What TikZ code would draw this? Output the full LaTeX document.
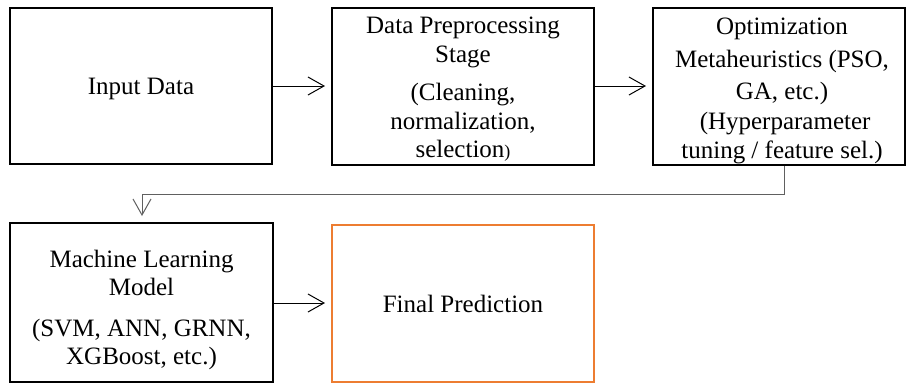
\documentclass[tikz,border=0pt]{standalone}
\usepackage{fontspec}
\setmainfont{Liberation Serif}
\usetikzlibrary{arrows.meta}
\definecolor{orng}{HTML}{ED7D31}
\definecolor{conn}{HTML}{606060}
\begin{document}
\begin{tikzpicture}[x=1pt,y=-1pt,
  box/.style={draw=black, line width=2pt, inner sep=0pt},
  txt/.style={align=center, inner sep=0pt, font=\fontsize{25}{28.5}\selectfont},
  flow/.style={line width=1pt, -{Straight Barb[length=16pt,width=18pt,line width=1pt]}, shorten >=6pt}]
\useasboundingbox (0,0) rectangle (907,384);
\node[box, minimum width=262pt, minimum height=156pt] (inp) at (141,86) {};
\node[box, minimum width=262pt, minimum height=157pt] (pre) at (463,86.5) {};
\node[box, minimum width=252pt, minimum height=157pt] (opt) at (779,86.5) {};
\node[box, minimum width=263pt, minimum height=159pt] (ml) at (141.5,302.5) {};
\node[box, draw=orng, minimum width=262pt, minimum height=157pt] (fin) at (463,303.5) {};
\node[txt] (inpt) at (141,88.5) {Input Data};
\node[txt] (pret) at (463,89.5)
  {Data Preprocessing\\Stage\\[10pt](Cleaning,\\normalization,\\selection{\fontsize{18}{28}\selectfont)}};
\node[txt] (optt) at (782,91)
  {Optimization\\[4pt]Metaheuristics (PSO,\\[4pt]GA, etc.)\\[1pt]\ (Hyperparameter\\[1pt]tuning / feature sel.)};
\node[txt] (mlt) at (141.5,310)
  {Machine Learning\\Model\\[12pt](SVM, ANN, GRNN,\\XGBoost, etc.)};
\node[txt] (fint) at (463,304) {Final Prediction};
\draw[flow] (inp.east |- 0,86) -- (pre.west |- 0,86);
\draw[flow] (pre.east |- 0,86) -- (opt.west |- 0,86);
\draw[flow] (ml.east |- 0,303) -- (fin.west |- 0,303);
\coordinate (c1) at (784,194);
\coordinate (c2) at (142,194);
\draw[flow, draw=conn] (opt.south -| c1) -- (c1) -- (c2) -- (c2 |- ml.north);
\end{tikzpicture}
\end{document}
